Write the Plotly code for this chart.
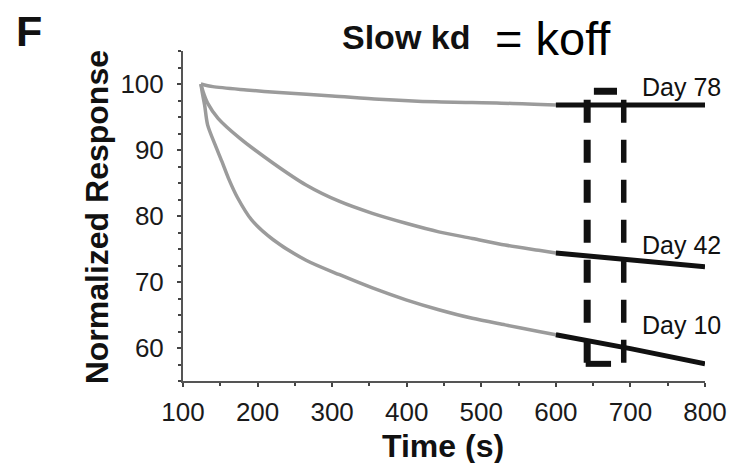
import plotly.graph_objects as go

# ---------------- data ----------------
day78_t = [124, 140, 185, 229, 300, 363, 439, 527, 600]
day78_v = [100.0, 99.6, 99.1, 98.7, 98.2, 97.7, 97.3, 97.1, 96.8]

day42_t = [124, 127, 133, 147, 176, 221, 265, 310, 354, 399, 443, 488, 532, 577, 600]
day42_v = [100.0, 98.8, 97.1, 94.8, 91.8, 88.0, 84.7, 82.2, 80.4, 78.9, 77.6, 76.6, 75.6, 74.8, 74.4]

day10_t = [124, 126, 129, 133, 143, 152, 161, 173, 192, 221, 265, 310, 354, 399, 443, 488, 532, 577, 600]
day10_v = [100.0, 98.6, 96.8, 93.8, 90.8, 88.3, 85.7, 82.8, 79.4, 76.4, 73.3, 71.1, 69.1, 67.3, 65.8, 64.5, 63.5, 62.5, 62.0]

fit_t = [600, 700, 800]
fit78_v = [96.8, 96.8, 96.8]
fit42_v = [74.4, 73.3, 72.3]
fit10_v = [62.0, 59.9, 57.6]

labels = ["Day 78", "Day 42", "Day 10"]
label_t = [713, 713, 713]
label_v = [99.6, 75.6, 63.5]

# dashed selection box (data units)
box_left, box_right = 642, 691
box_top, box_bottom = 97.6, 57.7
box_cap_top = (651, 682, 98.9)
box_cap_bottom = (640, 674, 57.6)

x_range = [100, 800]
y_range = [55, 105]

# ---------------- layout geometry ----------------
OFF = 8                       # page body margin of the html page
W, H = 739 - OFF, 463 - OFF
ML, MR, MT = 183 - OFF, 32, 51 - OFF
PW, PH = 524, 330
MB = H - MT - PH

def px_paper_x(px):
    return (px - OFF - ML) / PW

def px_paper_y(py):
    return 1 - (py - OFF - MT) / PH

FONT = "Liberation Sans, Arial, sans-serif"
GRAY = "#9b9b9b"
BLACK = "#111111"

fig = go.Figure()
for t, v in [(day78_t, day78_v), (day42_t, day42_v), (day10_t, day10_v)]:
    fig.add_trace(go.Scatter(x=t, y=v, mode="lines",
                             line=dict(color=GRAY, width=3.5, shape="spline", smoothing=0.8),
                             hoverinfo="skip", showlegend=False))
for v in [fit78_v, fit42_v, fit10_v]:
    fig.add_trace(go.Scatter(x=fit_t, y=v, mode="lines", line=dict(color=BLACK, width=5),
                             hoverinfo="skip", showlegend=False))

# dashed box
fig.add_shape(type="line", x0=box_left, x1=box_left, y0=box_top, y1=box_bottom,
              line=dict(color=BLACK, width=7, dash="23px,17px"))
fig.add_shape(type="line", x0=box_right, x1=box_right, y0=box_top, y1=box_bottom,
              line=dict(color=BLACK, width=5.5, dash="23px,17px"))
fig.add_shape(type="line", x0=box_cap_top[0], x1=box_cap_top[1], y0=box_cap_top[2], y1=box_cap_top[2],
              line=dict(color=BLACK, width=7))
fig.add_shape(type="line", x0=box_cap_bottom[0], x1=box_cap_bottom[1], y0=box_cap_bottom[2], y1=box_cap_bottom[2],
              line=dict(color=BLACK, width=6))

for txt, t, v in zip(labels, label_t, label_v):
    fig.add_annotation(x=t, y=v, xref="x", yref="y", text=txt, showarrow=False,
                       xanchor="left", yanchor="middle",
                       font=dict(family=FONT, size=25, color=BLACK))

def paper_note(px, py, text, size, xanchor="center", angle=0, color=BLACK):
    fig.add_annotation(x=px_paper_x(px), y=px_paper_y(py), xref="paper", yref="paper",
                       text=text, showarrow=False, textangle=angle,
                       xanchor=xanchor, yanchor="middle",
                       font=dict(family=FONT, size=size, color=color))

paper_note(407, 37, "<b>Slow kd</b>", 34)
paper_note(494, 38, "= koff", 47, xanchor="left", color="#000000")
paper_note(13, 31, "<b>F</b>", 43, xanchor="left")
paper_note(444, 446, "<b>Time (s)</b>", 32)
paper_note(97, 217, "<b>Normalized Response</b>", 32, angle=-90)

axis_common = dict(showgrid=False, zeroline=False, showline=True, linecolor="#555555", linewidth=2,
                   ticks="outside", ticklen=4, tickwidth=1.5, tickcolor="#444444",
                   tickfont=dict(family=FONT, size=26, color="#1a1a1a"))

fig.update_xaxes(range=x_range, tickmode="linear", tick0=100, dtick=100, ticklabelstandoff=3,
                 minor=dict(dtick=50, tick0=100, ticks="outside", ticklen=3, tickcolor="#444444"),
                 **axis_common)
fig.update_yaxes(range=y_range, tickmode="linear", tick0=60, dtick=10, ticklabelstandoff=8,
                 minor=dict(dtick=2.5, tick0=55, ticks="outside", ticklen=3, tickcolor="#444444"),
                 **axis_common)

fig.update_layout(width=W, height=H, margin=dict(l=ML, r=MR, t=MT, b=MB),
                  paper_bgcolor="white", plot_bgcolor="white", showlegend=False)

fig.write_html("out.html")
